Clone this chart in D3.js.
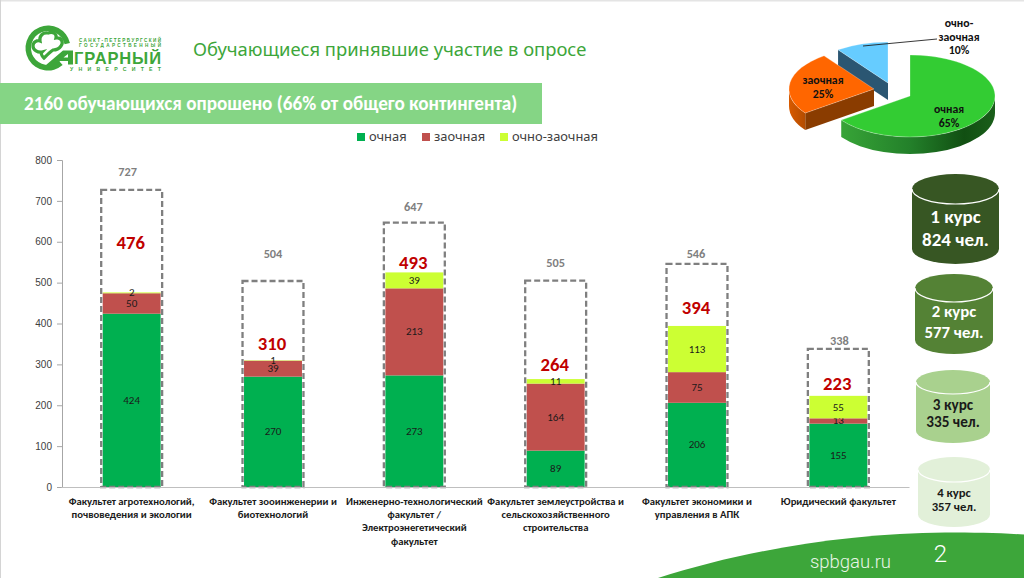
<!DOCTYPE html>
<html lang="ru">
<head>
<meta charset="utf-8">
<title>Обучающиеся принявшие участие в опросе</title>
<script src="https://d3js.org/d3.v7.min.js"></script>
<style>
  html, body { margin: 0; padding: 0; background: #fff; }
  svg { display: block; }
  text { font-family: Carlito, Lato, "Open Sans", sans-serif; }
</style>
</head>
<body>
<svg id="slide" width="1024" height="578" viewBox="0 0 1024 578"></svg>
<script>
// Survey data
const categories = [
  ["Факультет агротехнологий,", "почвоведения и экологии"],
  ["Факультет зооинженерии и", "биотехнологий"],
  ["Инженерно-технологический", "факультет /", "Электроэнегетический", "факультет"],
  ["Факультет землеустройства и", "сельскохозяйственного", "строительства"],
  ["Факультет экономики и", "управления в АПК"],
  ["Юридический факультет"]
];
const fullTime = [424, 270, 273, 89, 206, 155];
const extramural = [50, 39, 213, 164, 75, 13];
const mixedForm = [2, 1, 39, 11, 113, 55];
const enrolled = [727, 504, 647, 505, 546, 338];
const respondents = [476, 310, 493, 264, 394, 223];
const seriesNames = ["очная", "заочная", "очно-заочная"];
const yTicks = [0, 100, 200, 300, 400, 500, 600, 700, 800];

const pieNames = ["очная", "заочная", "очно-заочная"];
const pieShares = [65, 25, 10];

const courseNames = ["1 курс", "2 курс", "3 курс", "4 курс"];
const courseCounts = [824, 577, 335, 357];

// Hand placement of the callouts, in pixels relative to their marks
const enrolledLabelGap = [-18, -27, -15.5, -17.6, -10, -8];
const enrolledLabelShift = [-4, 0, -1, 0, -1, 1];
const respondentLabelGap = [-49, -16, -9.5, -14, -18, -12];

const seriesColors = ["#00b050", "#c0504d", "#ccff33"];
const brandGreen = "#3da63a";

const svg = d3.select("#slide");

// Gradients for the pie's outer wall
const defs = svg.append("defs");
const wallGreen = defs.append("linearGradient").attr("id", "wallGreen");
[["0%", "#37a437"], ["45%", "#23802a"], ["80%", "#114f12"], ["100%", "#1a5f1a"]].forEach(([o, c]) =>
  wallGreen.append("stop").attr("offset", o).attr("stop-color", c));
const wallOrange = defs.append("linearGradient").attr("id", "wallOrange");
[["0%", "#d85a00"], ["100%", "#b34c00"]].forEach(([o, c]) =>
  wallOrange.append("stop").attr("offset", o).attr("stop-color", c));

// Slide frame
svg.append("rect").attr("width", 1024).attr("height", 578).attr("fill", "#fff");
svg.append("rect").attr("width", 1024).attr("height", 1.5).attr("fill", "#e4e4e4");
svg.append("rect").attr("width", 1).attr("height", 578).attr("fill", "#d4d4d4");

// Footer band
svg.append("path")
  .attr("d", "M658,578 C745,550 850,533 945,532.5 C975,532.5 1000,533 1024,534.5 L1024,578 Z")
  .attr("fill", brandGreen);
svg.append("text").attr("x", 850.5).attr("y", 568).attr("text-anchor", "middle")
  .style("font-family", "Roboto, sans-serif").style("font-size", "18.5px").style("font-weight", 300)
  .attr("fill", "#e9f5e7").text("spbgau.ru");
svg.append("text").attr("x", 940.5).attr("y", 562).attr("text-anchor", "middle")
  .style("font-family", "Roboto, sans-serif").style("font-size", "24px").style("font-weight", 300)
  .attr("fill", "#fff").text("2");

// University emblem and wordmark
const logo = svg.append("g");
logo.append("path")
  .attr("d", d3.arc().innerRadius(17).outerRadius(22.5).startAngle(-3.85).endAngle(1.35)())
  .attr("transform", "translate(48,48)").attr("fill", brandGreen);
logo.append("path")
  .attr("d", "M48,33 C53,31 57,34 56,38 C61,37 64,42 61,46 C59,49 56,50 53,50 C50,52 47,55 44,58 C42,56 40,54 42,52 C38,53 33,50 33,46 C33,42 37,40 40,41 C39,36 43,32 48,33 Z")
  .attr("fill", "#fff").attr("stroke", brandGreen).attr("stroke-width", 3.2);
logo.append("path")
  .attr("d", "M46,65 L63,50.5 L73,50.5 L73,64.5 L68,64.5 L68,61 L60,61 L56,65 Z M63.5,57.5 L68,57.5 L68,54 Z")
  .attr("fill", brandGreen).attr("fill-rule", "evenodd");
const wordmark = [
  { text: "САНКТ-ПЕТЕРБУРГСКИЙ", x: 79, y: 42, w: 82, size: 4.6 },
  { text: "ГОСУДАРСТВЕННЫЙ", x: 79, y: 47, w: 82, size: 4.6 },
  { text: "ГРАРНЫЙ", x: 74, y: 63.5, w: 87, size: 16.5 },
  { text: "УНИВЕРСИТЕТ", x: 70, y: 71, w: 91, size: 5.2 }
];
logo.selectAll("text.wordmark").data(wordmark).join("text").attr("class", "wordmark")
  .attr("x", d => d.x).attr("y", d => d.y)
  .attr("textLength", d => d.w).attr("lengthAdjust", "spacing")
  .style("font-size", d => d.size + "px").style("font-weight", 700)
  .style("font-family", "'Liberation Sans', sans-serif")
  .attr("fill", brandGreen).text(d => d.text);

// Heading and banner
svg.append("text").attr("x", 193).attr("y", 55.5)
  .style("font-family", "'Noto Sans', sans-serif").style("font-size", "18.4px")
  .attr("fill", brandGreen).text("Обучающиеся принявшие участие в опросе");
svg.append("rect").attr("x", 0).attr("y", 83).attr("width", 542).attr("height", 41).attr("fill", "#85d585");
svg.append("text").attr("x", 24).attr("y", 110)
  .style("font-size", "19.2px").style("font-weight", 700)
  .attr("fill", "#fff").text("2160 обучающихся опрошено (66% от общего контингента)");

// Legend
const legendX = [357, 422, 500];
const legend = svg.selectAll("g.legend").data(seriesNames).join("g").attr("class", "legend")
  .attr("transform", (d, i) => `translate(${legendX[i]},133)`);
legend.append("rect").attr("width", 8).attr("height", 8).attr("fill", (d, i) => seriesColors[i]);
legend.append("text").attr("x", 12).attr("y", 7.5)
  .style("font-family", "'Noto Sans', sans-serif").style("font-size", "12.9px")
  .attr("fill", "#404040").text(d => d);

// Stacked bars
const x = d3.scaleBand().domain(d3.range(categories.length)).range([61, 909]).paddingInner(0.59).paddingOuter(0.295);
const y = d3.scaleLinear().domain([0, 800]).range([487, 160]);

const stackRows = categories.map((c, i) => ({ index: i, s0: fullTime[i], s1: extramural[i], s2: mixedForm[i] }));
const stacked = d3.stack().keys(["s0", "s1", "s2"])(stackRows);

const layers = svg.selectAll("g.layer").data(stacked).join("g").attr("class", "layer")
  .attr("fill", (d, i) => seriesColors[i]);
layers.selectAll("rect").data(d => d).join("rect")
  .attr("x", d => x(d.data.index))
  .attr("width", x.bandwidth())
  .attr("y", d => y(d[1]))
  .attr("height", d => y(d[0]) - y(d[1]));
layers.selectAll("text").data(d => d).join("text")
  .attr("x", d => x(d.data.index) + x.bandwidth() / 2)
  .attr("y", d => (y(d[0]) + y(d[1])) / 2 + 3.5)
  .attr("text-anchor", "middle").attr("fill", "#1a1a1a")
  .style("font-size", "11px")
  .text(d => d[1] - d[0]);

// Dashed outlines: total enrolment per faculty
const outlinePad = 1.5;
svg.selectAll("rect.enrolled").data(enrolled).join("rect").attr("class", "enrolled")
  .attr("x", (d, i) => x(i) - outlinePad)
  .attr("width", x.bandwidth() + outlinePad * 2)
  .attr("y", d => y(d))
  .attr("height", d => y(0) - y(d))
  .attr("fill", "none").attr("stroke", "#7f7f7f").attr("stroke-width", 2.3).attr("stroke-dasharray", "6,3");

svg.selectAll("text.enrolled").data(enrolled).join("text").attr("class", "enrolled")
  .attr("x", (d, i) => x(i) + x.bandwidth() / 2 + enrolledLabelShift[i])
  .attr("y", (d, i) => y(d) + enrolledLabelGap[i] + 4)
  .attr("text-anchor", "middle").attr("fill", "#7f7f7f")
  .style("font-size", "12.3px").style("font-weight", 700)
  .text(d => d);

svg.selectAll("text.respondents").data(respondents).join("text").attr("class", "respondents")
  .attr("x", (d, i) => x(i) + x.bandwidth() / 2 - 1)
  .attr("y", (d, i) => y(fullTime[i] + extramural[i] + mixedForm[i]) + respondentLabelGap[i] + 6)
  .attr("text-anchor", "middle").attr("fill", "#c00000")
  .style("font-size", "18.7px").style("font-weight", 700)
  .text(d => d);

// Axes
const yAxis = d3.axisLeft(y).tickValues(yTicks).tickSize(5).tickPadding(5);
const yGroup = svg.append("g").attr("transform", "translate(62,0)").call(yAxis);
yGroup.selectAll("path, line").attr("stroke", "#a6a6a6");
yGroup.selectAll("text").style("font-family", "'Liberation Sans', sans-serif")
  .style("font-size", "10px").attr("fill", "#404040");

const xAxis = d3.axisBottom(x).tickSize(0).tickFormat("");
const xGroup = svg.append("g").attr("transform", "translate(0,487)").call(xAxis);
xGroup.select("path").attr("stroke", "#bfbfbf").attr("stroke-width", 1.2);
xGroup.selectAll(".tick").each(function (d) {
  const label = d3.select(this).select("text").attr("y", 0).attr("dy", null);
  label.selectAll("tspan").data(categories[d]).join("tspan")
    .attr("x", 0).attr("y", (t, i) => 18 + i * 13.2)
    .text(t => t);
  label.attr("text-anchor", "middle").attr("fill", "#1a1a1a")
    .style("font-size", "10.7px").style("font-weight", 700);
});

// Exploded 3D pie: the slices are projected onto a flattened ellipse
const rx = 85, ry = 41, depth = 17;
const pieApex = [[910, 96], [874, 89], [888, 83]];
const pieTop = ["#33cc33", "#ff6600", "#66ccff"];
const pieCut = ["#1f7a1f", "#8a3c00", "#2b5672"];
const pieWall = ["url(#wallGreen)", "url(#wallOrange)", "#2b5672"];
const arcs = d3.pie().sort(null).value(d => d)(pieShares);
const onRim = (a, c, dy = 0) => [c[0] + rx * Math.sin(a), c[1] - ry * Math.cos(a) + dy];
const pieLayer = svg.append("g");

[2, 1, 0].forEach(i => {
  const { startAngle: a0, endAngle: a1 } = arcs[i];
  const c = pieApex[i];
  const large = a1 - a0 > Math.PI ? 1 : 0;

  // Cut face along the slice's leading edge
  const rimA = onRim(a0, c);
  pieLayer.append("path")
    .attr("d", `M${c}L${rimA}L${onRim(a0, c, depth)}L${[c[0], c[1] + depth]}Z`)
    .attr("fill", pieCut[i]);

  // Outer wall where the rim faces the viewer
  const w0 = Math.max(a0, Math.PI / 2), w1 = Math.min(a1, 3 * Math.PI / 2);
  if (w1 > w0) {
    pieLayer.append("path")
      .attr("d", `M${onRim(w0, c)}A${rx},${ry} 0 0 1 ${onRim(w1, c)}L${onRim(w1, c, depth)}A${rx},${ry} 0 0 0 ${onRim(w0, c, depth)}Z`)
      .attr("fill", pieWall[i]);
  }

  // Top face
  pieLayer.append("path")
    .attr("d", `M${c}L${onRim(a0, c)}A${rx},${ry} 0 ${large} 1 ${onRim(a1, c)}Z`)
    .attr("fill", pieTop[i]).attr("stroke", "#fff").attr("stroke-opacity", 0.45).attr("stroke-width", 0.6);
});

svg.append("line").attr("x1", 863).attr("y1", 46).attr("x2", 937).attr("y2", 39)
  .attr("stroke", "#222").attr("stroke-width", 0.9);

const pieLabels = [
  { x: 949, y: 113, lines: [pieNames[0], pieShares[0] + "%"], gap: 13.5 },
  { x: 823, y: 84, lines: [pieNames[1], pieShares[1] + "%"], gap: 14 },
  { x: 959, y: 27, lines: ["очно-", "заочная", pieShares[2] + "%"], gap: 13.5 }
];
pieLabels.forEach(l => {
  svg.append("text").attr("text-anchor", "middle").attr("fill", "#111")
    .style("font-size", "11.8px").style("font-weight", 700)
    .selectAll("tspan").data(l.lines).join("tspan")
    .attr("x", l.x).attr("y", (t, i) => l.y + i * l.gap).text(t => t);
});

// Year-of-study cylinders
const cylinders = [
  { x0: 912, x1: 999, top: 174, capH: 30, bottom: 264, fill: "#375623", ink: "#fff", size: 19, y1: 223, y2: 246 },
  { x0: 915, x1: 993, top: 274, capH: 28, bottom: 354, fill: "#548235", ink: "#fff", size: 16.8, y1: 317, y2: 338 },
  { x0: 916, x1: 990, top: 370, capH: 24, bottom: 443, fill: "#a9d18e", ink: "#1a1a1a", size: 15.2, y1: 409.5, y2: 426.5 },
  { x0: 918, x1: 990, top: 457, capH: 25, bottom: 527, fill: "#e2f0d9", ink: "#1a1a1a", size: 12.7, y1: 496.5, y2: 510.5 }
];
cylinders.forEach((c, i) => {
  const r = (c.x1 - c.x0) / 2, e = c.capH / 2, mid = c.top + e;
  const low = c.bottom - e;
  svg.append("path")
    .attr("d", `M${c.x0},${mid}A${r},${e} 0 0 1 ${c.x1},${mid}L${c.x1},${low}A${r},${e} 0 0 1 ${c.x0},${low}Z`)
    .attr("fill", c.fill);
  svg.append("path")
    .attr("d", `M${c.x0},${mid}A${r},${e} 0 0 0 ${c.x1},${mid}`)
    .attr("fill", "none").attr("stroke", "#fff").attr("stroke-width", 1.2);
  [[courseNames[i], c.y1], [courseCounts[i] + " чел.", c.y2]].forEach(([t, ty]) => {
    svg.append("text").attr("x", (c.x0 + c.x1) / 2).attr("y", ty).attr("text-anchor", "middle")
      .attr("fill", c.ink).style("font-size", c.size + "px").style("font-weight", 700).text(t);
  });
});
</script>
</body>
</html>
